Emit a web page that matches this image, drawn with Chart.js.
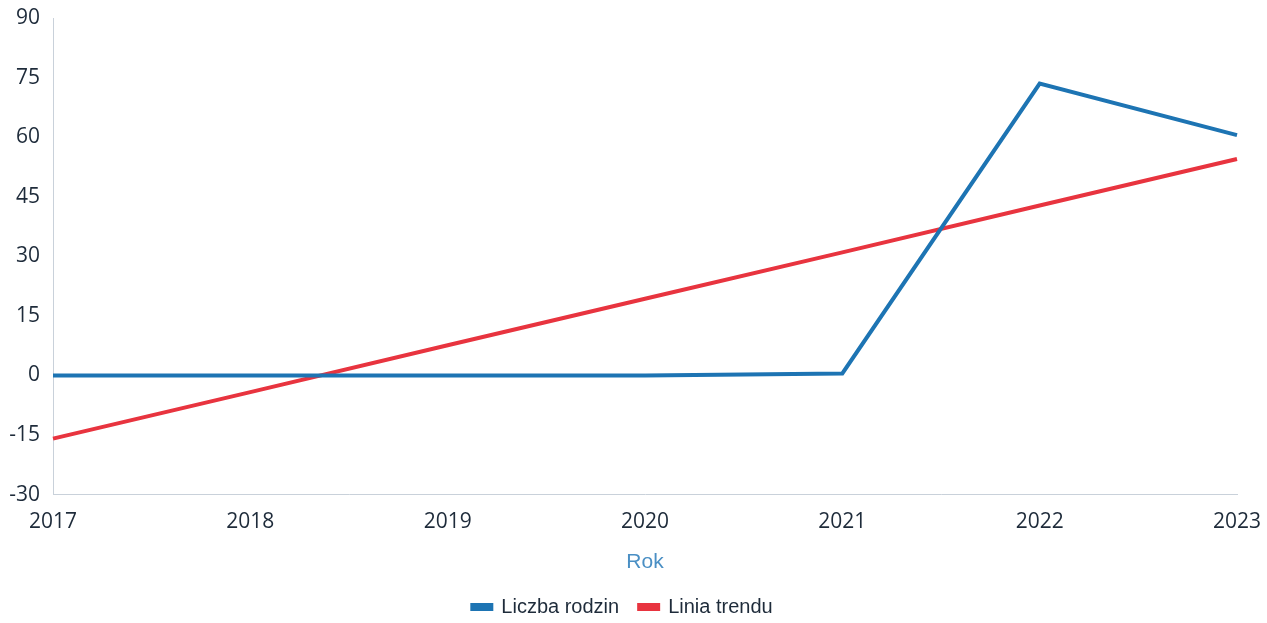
<!DOCTYPE html>
<html>
<head>
<meta charset="utf-8">
<script src="https://cdn.jsdelivr.net/npm/chart.js@4"></script>
<style>
  html, body { margin: 0; padding: 0; background: #ffffff; }
  #wrap { width: 1267px; height: 623px; }
</style>
</head>
<body>
<div id="wrap"><canvas id="chart"></canvas></div>
<script>
const years = ['2017', '2018', '2019', '2020', '2021', '2022', '2023'];
const families = [0, 0, 0, 0, 0.5, 73.5, 60.5];
const trend = [-15.9, -4.2, 7.6, 19.3, 31.0, 42.8, 54.5];
const yTicks = [-30, -15, 0, 15, 30, 45, 60, 75, 90];

const blue = '#1d74b3';
const red = '#e8343f';
const ink = '#1e2b3a';

new Chart(document.getElementById('chart'), {
  type: 'line',
  data: {
    labels: years,
    datasets: [
      { label: 'Liczba rodzin', data: families, borderColor: blue, backgroundColor: blue, borderWidth: 4, pointRadius: 0, tension: 0 },
      { label: 'Linia trendu', data: trend, borderColor: red, backgroundColor: red, borderWidth: 4, pointRadius: 0, tension: 0 }
    ]
  },
  options: {
    responsive: true,
    maintainAspectRatio: false,
    animation: false,
    layout: { padding: { left: 8, right: 30, top: 0, bottom: 0 } },
    plugins: {
      tooltip: { enabled: false },
      legend: {
        position: 'bottom',
        maxHeight: 46,
        labels: {
          boxWidth: 19,
          boxHeight: 4,
          padding: 20,
          color: ink,
          font: { family: 'Liberation Sans', size: 20 }
        }
      }
    },
    scales: {
      x: {
        afterFit: s => { s.paddingRight = 0; s.paddingLeft = 0; },
        grid: { display: false, drawTicks: false },
        border: { display: true, color: '#c9d1da', width: 1 },
        ticks: { color: ink, font: { family: 'Open Sans', size: 21, weight: '500' }, padding: 15, maxRotation: 0 },
        title: { display: true, text: 'Rok', color: '#4a8fc4', font: { family: 'Liberation Sans', size: 21 }, padding: { top: 0, bottom: 2 } }
      },
      y: {
        min: -30,
        max: 90,
        afterBuildTicks: axis => { axis.ticks = yTicks.map(v => ({ value: v })); },
        afterFit: s => { s.width = 45; s.paddingTop = 18; s.paddingBottom = 0; },
        grid: { display: false, drawTicks: false },
        border: { display: true, color: '#c9d1da', width: 1, dash: [2, 2] },
        ticks: { color: ink, font: { family: 'Open Sans', size: 21, weight: '500' }, padding: 13 }
      }
    }
  }
});
</script>
</body>
</html>
